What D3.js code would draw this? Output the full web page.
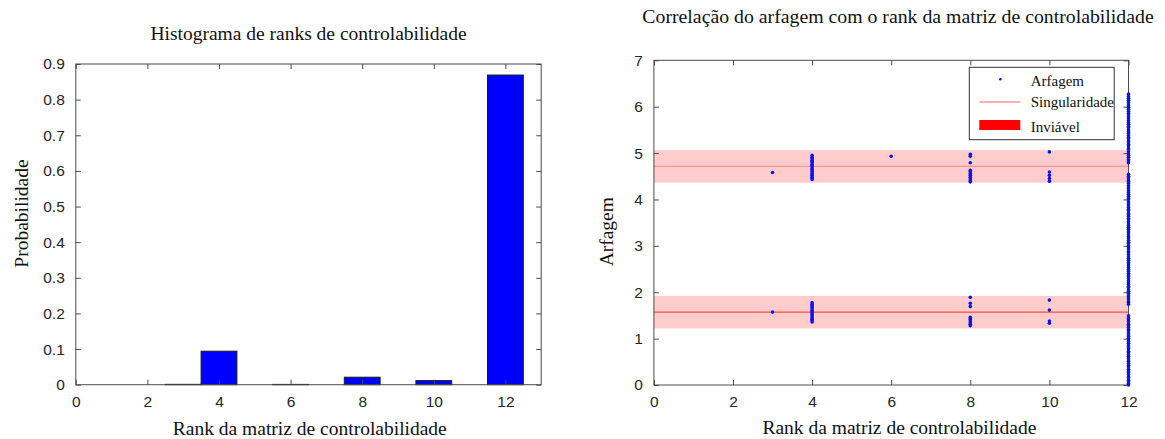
<!DOCTYPE html>
<html>
<head>
<meta charset="utf-8">
<script src="https://cdn.jsdelivr.net/npm/d3@7"></script>
<style>
  body { margin: 0; background: #fff; }
  svg { display: block; }
  .serif { font-family: "Liberation Serif", "Times New Roman", serif; fill: #111; }
  .tick text { font-family: "Liberation Sans", Arial, sans-serif; fill: #262626; }
</style>
</head>
<body>
<svg id="fig" width="1165" height="439"></svg>
<script>
// ---------- Histogram of controllability-matrix ranks ----------
const histRanks = [3, 4, 5, 6, 7, 8, 9, 10, 11, 12];
const histProb  = [0.001, 0.094, 0, 0.0008, 0, 0.021, 0, 0.0115, 0, 0.869];
const histXTicks = [0, 2, 4, 6, 8, 10, 12];
const histYTicks = [0, 0.1, 0.2, 0.3, 0.4, 0.5, 0.6, 0.7, 0.8, 0.9];

// ---------- Pitch samples grouped by controllability rank ----------
const rank3Pitch  = [4.58, 1.572];
const rank4Pitch  = [4.43, 4.46, 4.48, 4.52, 4.55, 4.57, 4.61, 4.64, 4.66, 4.70, 4.73, 4.75, 4.79, 4.82, 4.84, 4.88, 4.91, 4.95,
                     1.36, 1.39, 1.42, 1.45, 1.49, 1.52, 1.55, 1.58, 1.61, 1.65, 1.68, 1.71, 1.74, 1.78];
const rank6Pitch  = [4.93];
const rank8Pitch  = [4.975, 4.93, 4.79, 4.63, 4.60, 4.56, 4.52, 4.48, 4.44, 4.40, 4.38,
                     1.89, 1.76, 1.69, 1.46, 1.42, 1.38, 1.34, 1.31, 1.28];
const rank10Pitch = [5.025, 4.59, 4.52, 4.45, 4.39, 1.83, 1.615, 1.38, 1.33];
const rank12Pitch = [
  0.00, 0.03, 0.07, 0.10, 0.15, 0.18, 0.22, 0.27, 0.30, 0.34, 0.39, 0.42, 0.46, 0.51, 0.54, 0.58, 0.62, 0.66,
  0.70, 0.73, 0.78, 0.81, 0.85, 0.90, 0.93, 0.97, 1.01, 1.05, 1.08, 1.12, 1.17, 1.20, 1.24, 1.28, 1.31, 1.36,
  1.40, 1.44, 1.49,
  1.74, 1.78, 1.81, 1.86, 1.90, 1.93, 1.98, 2.02, 2.05, 2.10, 2.13, 2.17, 2.22, 2.25, 2.29, 2.34, 2.37, 2.41,
  2.45, 2.49, 2.53, 2.57, 2.61, 2.64, 2.69, 2.73, 2.76, 2.81, 2.85, 2.88, 2.93, 2.96, 3.00, 3.05, 3.08, 3.12,
  3.17, 3.20, 3.24, 3.28, 3.32, 3.36, 3.40, 3.44, 3.47, 3.52, 3.56, 3.59, 3.64, 3.68, 3.71, 3.76, 3.79, 3.83,
  3.88, 3.91, 3.95, 4.00, 4.03, 4.07, 4.11, 4.15, 4.19, 4.23, 4.27, 4.30, 4.35, 4.39, 4.42, 4.47, 4.50, 4.545,
  4.79, 4.83, 4.86, 4.91, 4.95, 4.98, 5.03, 5.07, 5.10, 5.15, 5.19, 5.22, 5.26, 5.31, 5.34, 5.38, 5.43, 5.46,
  5.50, 5.55, 5.58, 5.62, 5.66, 5.70, 5.74, 5.78, 5.82, 5.86, 5.90, 5.94, 5.98, 6.02, 6.06, 6.10, 6.14, 6.18,
  6.22, 6.27
];
const pitchRanks = [3, 4, 6, 8, 10, 12];
const pitchGroups = [rank3Pitch, rank4Pitch, rank6Pitch, rank8Pitch, rank10Pitch, rank12Pitch];

// Singular pitch angles (pi/2 and 3pi/2) and the infeasible band around each
const singularPitch = [1.5708, 4.7124];
const singularColors = ["#ff4a4a", "#ff9494"];
const infeasibleHalfWidth = 0.35;
const pitchXTicks = [0, 2, 4, 6, 8, 10, 12];
const pitchYTicks = [0, 1, 2, 3, 4, 5, 6, 7];
const legendLabels = ["Arfagem", "Singularidade", "Inviável"];

const svg = d3.select("#fig");
const axisColor = "#4d4d4d";
const dotColor = "#1010f0";

// Draws a MATLAB-style box: inward ticks on all four sides
function boxAxes(g, x, y, xTicks, yTicks, yFmt) {
  const [x0, x1] = x.range();
  const [y0, y1] = y.range();
  const tl = 5;
  const bottom = g.append("g").attr("transform", `translate(0,${y0})`)
    .call(d3.axisBottom(x).tickValues(xTicks).tickSize(-tl).tickPadding(11).tickFormat(d3.format("d")));
  const top = g.append("g").attr("transform", `translate(0,${y1})`)
    .call(d3.axisTop(x).tickValues(xTicks).tickSize(-tl).tickFormat(""));
  const left = g.append("g").attr("transform", `translate(${x0},0)`)
    .call(d3.axisLeft(y).tickValues(yTicks).tickSize(-tl).tickPadding(11).tickFormat(yFmt));
  const right = g.append("g").attr("transform", `translate(${x1},0)`)
    .call(d3.axisRight(y).tickValues(yTicks).tickSize(-tl).tickFormat(""));
  [bottom, top, left, right].forEach(a => {
    a.select(".domain").remove();
    a.selectAll(".tick line").attr("stroke", axisColor);
    a.selectAll(".tick text").attr("font-size", 15.5).attr("fill", "#262626");
  });
  g.append("rect")
    .attr("x", x0).attr("y", y1).attr("width", x1 - x0).attr("height", y0 - y1)
    .attr("fill", "none").attr("stroke", axisColor).attr("stroke-width", 1);
}

// ---------- Left panel: histogram ----------
{
  const xH = d3.scaleLinear().domain([0, 13]).range([75.8, 541.2]);
  const yH = d3.scaleLinear().domain([0, 0.9]).range([384.7, 64]);
  const g = svg.append("g");

  g.selectAll("rect.bar")
    .data(histRanks.map((r, i) => ({ r, p: histProb[i] })))
    .join("rect")
    .attr("class", "bar")
    .attr("x", d => xH(d.r - 0.5))
    .attr("width", d => xH(d.r + 0.5) - xH(d.r - 0.5))
    .attr("y", d => yH(d.p))
    .attr("height", d => yH(0) - yH(d.p))
    .attr("fill", "#0000ff")
    .attr("stroke", "#1a1a1a")
    .attr("stroke-width", 1);

  boxAxes(g, xH, yH, histXTicks, histYTicks, d => d === 0 ? "0" : d3.format(".1f")(d));

  g.append("text").attr("class", "serif")
    .attr("x", 308.5).attr("y", 39.5).attr("text-anchor", "middle").attr("font-size", 19.5)
    .text("Histograma de ranks de controlabilidade");
  g.append("text").attr("class", "serif")
    .attr("x", 309.8).attr("y", 435).attr("text-anchor", "middle").attr("font-size", 19.5)
    .text("Rank da matriz de controlabilidade");
  g.append("text").attr("class", "serif")
    .attr("transform", "translate(27.7,213.5) rotate(-90)")
    .attr("text-anchor", "middle").attr("font-size", 19.5)
    .text("Probabilidade");
}

// ---------- Right panel: pitch vs. rank ----------
{
  const xP = d3.scaleLinear().domain([0, 12]).range([653.9, 1128.5]);
  const yP = d3.scaleLinear().domain([0, 7]).range([385, 60.3]);
  const g = svg.append("g");

  // infeasible bands
  g.selectAll("rect.band")
    .data(singularPitch)
    .join("rect")
    .attr("class", "band")
    .attr("x", xP(0)).attr("width", xP(12) - xP(0))
    .attr("y", d => yP(d + infeasibleHalfWidth))
    .attr("height", d => yP(d - infeasibleHalfWidth) - yP(d + infeasibleHalfWidth))
    .attr("fill", "#ff0000").attr("fill-opacity", 0.2);

  // singularity lines
  g.selectAll("line.sing")
    .data(singularPitch)
    .join("line")
    .attr("class", "sing")
    .attr("x1", xP(0)).attr("x2", xP(12))
    .attr("y1", d => yP(d)).attr("y2", d => yP(d))
    .attr("stroke", (d, i) => singularColors[i]).attr("stroke-width", 1.3);

  boxAxes(g, xP, yP, pitchXTicks, pitchYTicks, d3.format("d"));

  // pitch samples, drawn over the axes box
  const pts = [];
  pitchRanks.forEach((r, i) => pitchGroups[i].forEach(v => pts.push({ r, v })));
  g.selectAll("circle.pt")
    .data(pts)
    .join("circle")
    .attr("class", "pt")
    .attr("cx", d => xP(d.r)).attr("cy", d => yP(d.v))
    .attr("r", 1.8)
    .attr("fill", dotColor);

  // legend
  const lg = g.append("g");
  lg.append("rect").attr("x", 969.3).attr("y", 67.3).attr("width", 144.9).attr("height", 72.4)
    .attr("fill", "#fff").attr("stroke", "#333").attr("stroke-width", 1);
  lg.append("circle").attr("cx", 1000.3).attr("cy", 79.3).attr("r", 1.3).attr("fill", dotColor);
  lg.append("line").attr("x1", 979.3).attr("x2", 1020.3).attr("y1", 102).attr("y2", 102)
    .attr("stroke", singularColors[1]).attr("stroke-width", 1.3);
  lg.append("rect").attr("x", 979.3).attr("y", 120).attr("width", 41).attr("height", 10).attr("fill", "#ff0000");
  const ly = [86, 107, 131.7];
  legendLabels.forEach((t, i) => {
    lg.append("text").attr("class", "serif").attr("x", 1030.7).attr("y", ly[i])
      .attr("font-size", 15).text(t);
  });

  g.append("text").attr("class", "serif")
    .attr("x", 898).attr("y", 23).attr("text-anchor", "middle").attr("font-size", 19.8)
    .text("Correlação do arfagem com o rank da matriz de controlabilidade");
  g.append("text").attr("class", "serif")
    .attr("x", 899.4).attr("y", 433.5).attr("text-anchor", "middle").attr("font-size", 19.5)
    .text("Rank da matriz de controlabilidade");
  g.append("text").attr("class", "serif")
    .attr("transform", "translate(613,231.7) rotate(-90)")
    .attr("text-anchor", "middle").attr("font-size", 19.5)
    .text("Arfagem");
}
</script>
</body>
</html>
